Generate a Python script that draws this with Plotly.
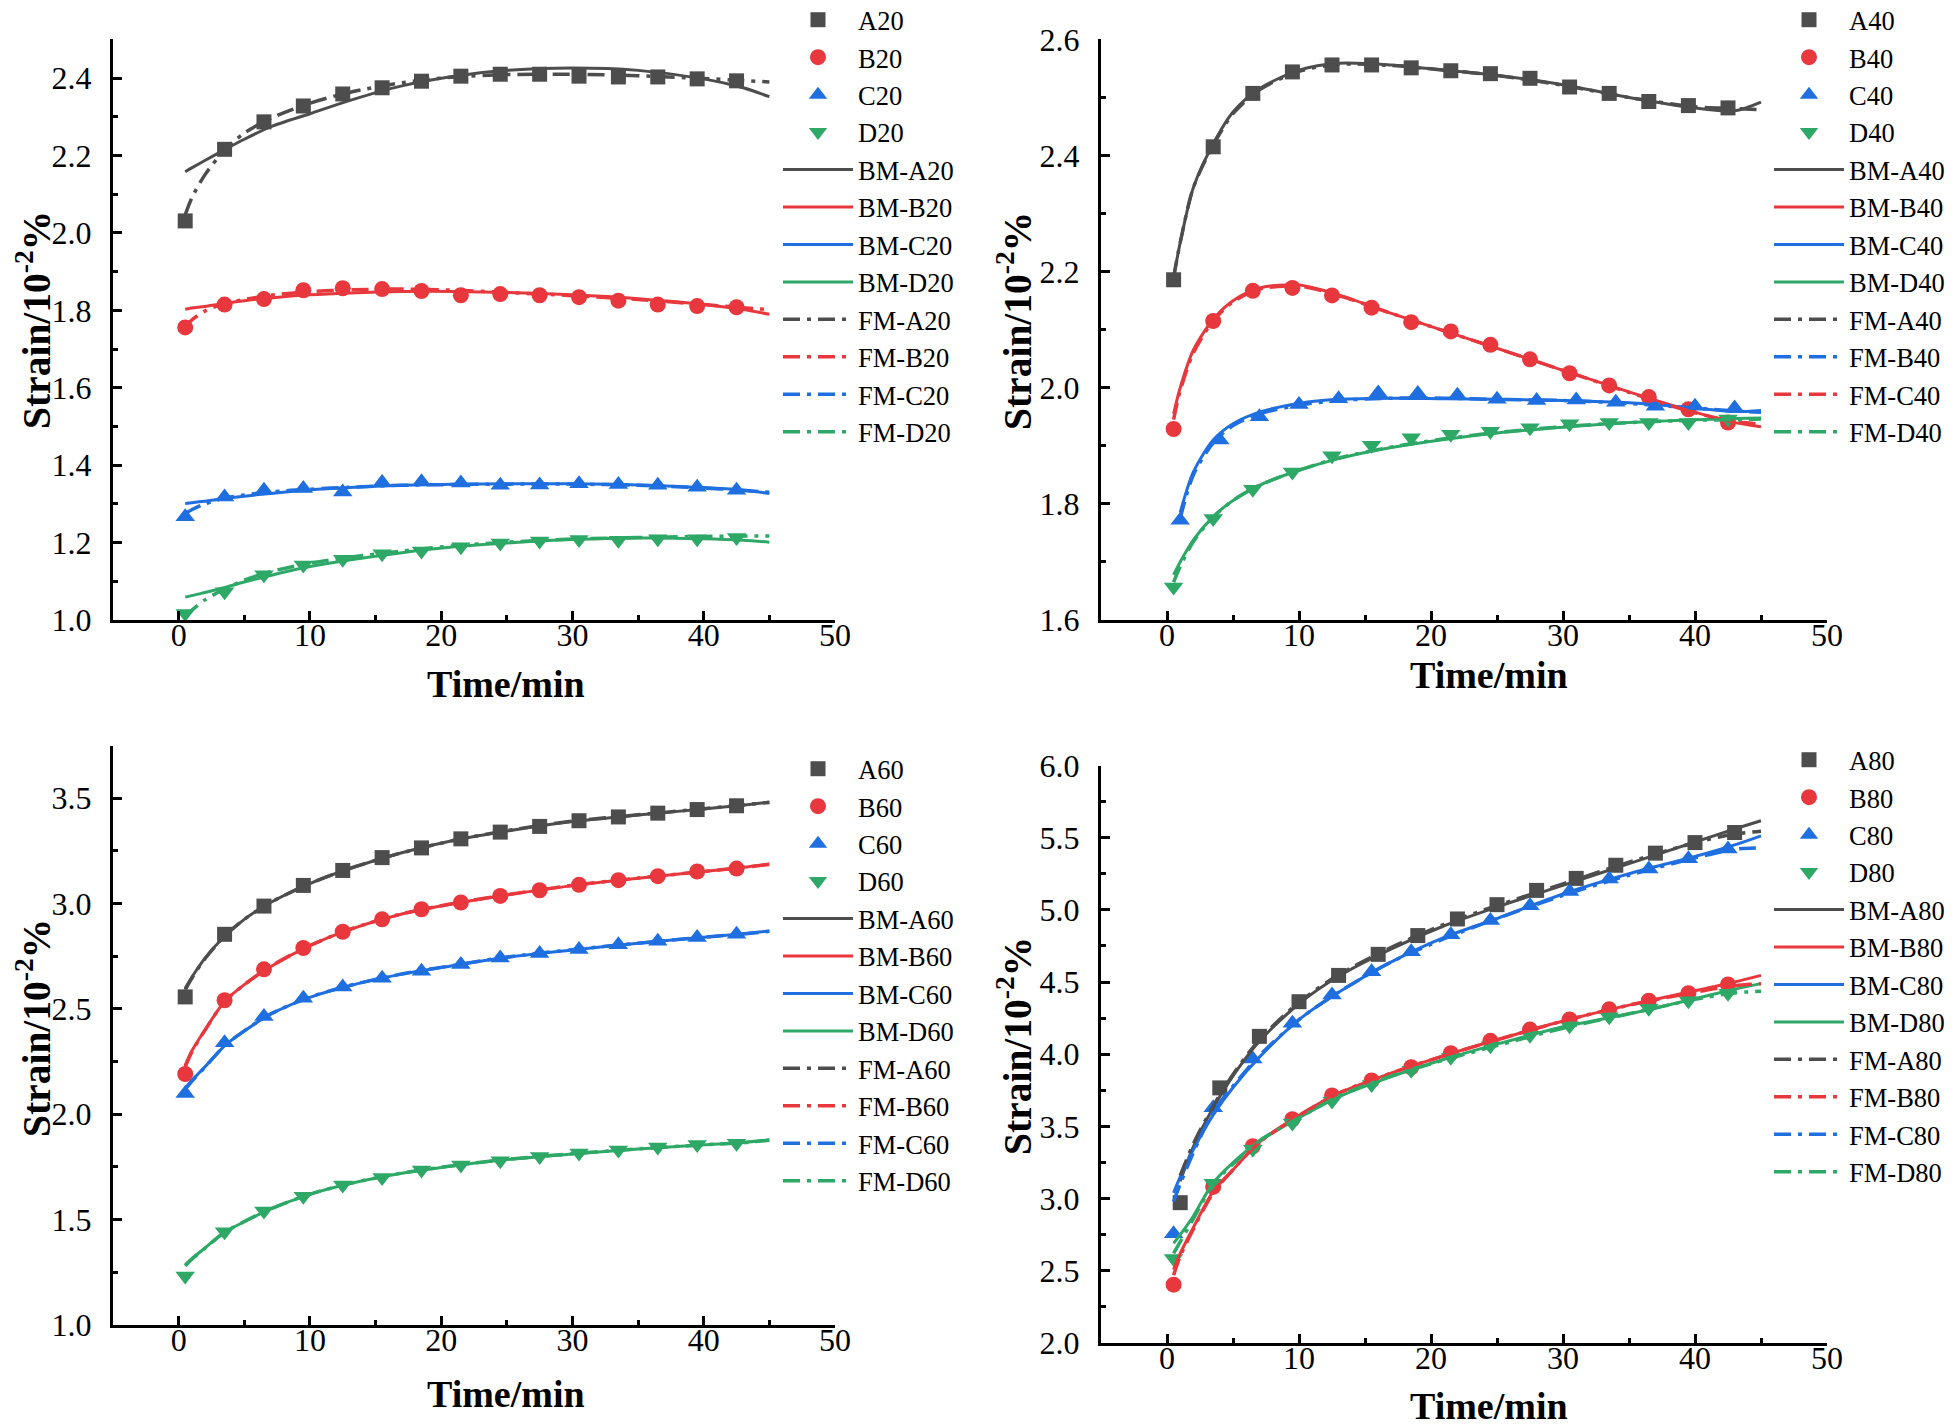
import plotly.graph_objects as go

# ---------------- time bases ----------------
T_PTS = [0.5, 3.5, 6.5, 9.5, 12.5, 15.5, 18.5, 21.5, 24.5, 27.5, 30.5, 33.5, 36.5, 39.5, 42.5]
T_PTS_1 = [1, 4, 7, 10, 13, 16, 19, 22, 25, 28, 31, 34, 37, 40, 43]
T_FIT = [0.5, 1, 2, 3.5, 5, 7, 10, 13, 17, 21, 25, 30, 35, 40, 43, 45]
T_FIT_1 = [1, 2, 3.5, 5, 7, 10, 13, 17, 21, 25, 30, 35, 40, 43, 45]

X_TICKS = [0, 10, 20, 30, 40, 50]

# ---------------- panel 1 (20) ----------------
A20 = [2.031, 2.216, 2.287, 2.328, 2.359, 2.375, 2.392, 2.405, 2.410, 2.410, 2.405, 2.403, 2.403, 2.398, 2.393]
B20 = [1.756, 1.815, 1.829, 1.852, 1.857, 1.855, 1.850, 1.839, 1.842, 1.839, 1.834, 1.825, 1.815, 1.811, 1.808]
C20 = [1.267, 1.318, 1.335, 1.340, 1.331, 1.355, 1.357, 1.354, 1.348, 1.349, 1.352, 1.350, 1.348, 1.343, 1.335]
D20 = [1.017, 1.073, 1.117, 1.142, 1.157, 1.171, 1.178, 1.189, 1.199, 1.204, 1.208, 1.206, 1.210, 1.210, 1.213]
BM_A20 = [2.158, 2.168, 2.187, 2.215, 2.242, 2.274, 2.308, 2.342, 2.380, 2.405, 2.420, 2.426, 2.420, 2.398, 2.375, 2.352]
BM_B20 = [1.803, 1.806, 1.810, 1.818, 1.825, 1.832, 1.840, 1.845, 1.849, 1.849, 1.846, 1.840, 1.830, 1.815, 1.802, 1.790]
BM_C20 = [1.301, 1.303, 1.307, 1.314, 1.320, 1.327, 1.336, 1.342, 1.348, 1.351, 1.352, 1.352, 1.349, 1.342, 1.335, 1.327]
BM_D20 = [1.059, 1.063, 1.071, 1.084, 1.098, 1.115, 1.138, 1.155, 1.174, 1.189, 1.199, 1.208, 1.212, 1.210, 1.206, 1.201]
FM_A20 = [2.047, 2.090, 2.150, 2.214, 2.258, 2.296, 2.335, 2.363, 2.388, 2.403, 2.409, 2.410, 2.406, 2.399, 2.394, 2.390]
FM_B20 = [1.756, 1.775, 1.798, 1.818, 1.828, 1.839, 1.848, 1.853, 1.855, 1.852, 1.846, 1.838, 1.828, 1.815, 1.807, 1.802]
FM_C20 = [1.275, 1.285, 1.300, 1.315, 1.323, 1.331, 1.338, 1.343, 1.348, 1.350, 1.351, 1.351, 1.348, 1.341, 1.335, 1.330]
FM_D20 = [1.008, 1.025, 1.052, 1.080, 1.103, 1.125, 1.147, 1.162, 1.178, 1.192, 1.201, 1.209, 1.213, 1.216, 1.217, 1.217]

# ---------------- panel 2 (40) ----------------
A40 = [2.186, 2.415, 2.507, 2.544, 2.556, 2.556, 2.551, 2.546, 2.541, 2.533, 2.518, 2.507, 2.493, 2.486, 2.482]
B40 = [1.929, 2.115, 2.167, 2.172, 2.159, 2.138, 2.113, 2.097, 2.074, 2.049, 2.025, 2.004, 1.984, 1.963, 1.940]
C40 = [1.772, 1.910, 1.950, 1.971, 1.981, 1.991, 1.990, 1.987, 1.980, 1.978, 1.979, 1.975, 1.968, 1.968, 1.965]
D40 = [1.657, 1.775, 1.825, 1.855, 1.883, 1.901, 1.914, 1.920, 1.925, 1.931, 1.938, 1.940, 1.940, 1.940, 1.946]
BM_A40 = [2.190, 2.250, 2.345, 2.420, 2.475, 2.515, 2.547, 2.559, 2.556, 2.547, 2.538, 2.522, 2.500, 2.482, 2.477, 2.492]
BM_B40 = [1.955, 2.000, 2.065, 2.118, 2.150, 2.172, 2.177, 2.160, 2.128, 2.098, 2.068, 2.030, 1.993, 1.958, 1.940, 1.933]
BM_C40 = [1.785, 1.855, 1.910, 1.938, 1.958, 1.973, 1.980, 1.982, 1.981, 1.980, 1.978, 1.974, 1.965, 1.959, 1.961]
BM_D40 = [1.678, 1.700, 1.738, 1.778, 1.806, 1.832, 1.858, 1.878, 1.897, 1.911, 1.922, 1.932, 1.940, 1.945, 1.947, 1.948]
FM_A40 = [2.190, 2.250, 2.345, 2.418, 2.472, 2.513, 2.545, 2.557, 2.555, 2.547, 2.538, 2.521, 2.500, 2.484, 2.481, 2.479]
FM_B40 = [1.775, 1.850, 1.905, 1.935, 1.955, 1.970, 1.978, 1.982, 1.982, 1.980, 1.978, 1.973, 1.965, 1.960, 1.958]
FM_C40 = [1.945, 1.995, 2.060, 2.115, 2.148, 2.170, 2.175, 2.159, 2.128, 2.098, 2.068, 2.030, 1.992, 1.957, 1.942, 1.937]
FM_D40 = [1.665, 1.692, 1.735, 1.777, 1.806, 1.832, 1.858, 1.879, 1.898, 1.912, 1.923, 1.933, 1.940, 1.944, 1.945, 1.946]

# ---------------- panel 3 (60) ----------------
A60 = [2.557, 2.854, 2.988, 3.086, 3.157, 3.218, 3.264, 3.307, 3.339, 3.366, 3.393, 3.411, 3.429, 3.446, 3.464]
B60 = [2.191, 2.541, 2.688, 2.789, 2.866, 2.925, 2.973, 3.005, 3.036, 3.063, 3.089, 3.111, 3.130, 3.152, 3.166]
C60 = [2.098, 2.339, 2.464, 2.550, 2.604, 2.646, 2.679, 2.711, 2.741, 2.763, 2.782, 2.804, 2.821, 2.839, 2.854]
D60 = [1.232, 1.443, 1.541, 1.611, 1.664, 1.700, 1.736, 1.759, 1.780, 1.800, 1.816, 1.830, 1.845, 1.857, 1.862]
BM_A60 = [2.598, 2.650, 2.740, 2.845, 2.925, 3.005, 3.095, 3.165, 3.241, 3.300, 3.344, 3.389, 3.420, 3.449, 3.467, 3.482]
BM_B60 = [2.232, 2.300, 2.400, 2.535, 2.615, 2.700, 2.800, 2.876, 2.950, 3.000, 3.041, 3.085, 3.120, 3.152, 3.172, 3.188]
BM_C60 = [2.125, 2.160, 2.225, 2.325, 2.395, 2.475, 2.555, 2.610, 2.665, 2.706, 2.745, 2.780, 2.812, 2.840, 2.857, 2.870]
BM_D60 = [1.286, 1.315, 1.365, 1.440, 1.490, 1.550, 1.620, 1.670, 1.720, 1.756, 1.785, 1.812, 1.835, 1.855, 1.866, 1.879]
FM_A60 = [2.590, 2.645, 2.738, 2.845, 2.925, 3.005, 3.095, 3.166, 3.241, 3.300, 3.346, 3.391, 3.421, 3.450, 3.468, 3.480]
FM_B60 = [2.225, 2.295, 2.398, 2.535, 2.615, 2.702, 2.801, 2.877, 2.951, 3.001, 3.042, 3.086, 3.121, 3.152, 3.171, 3.186]
FM_C60 = [2.118, 2.156, 2.223, 2.325, 2.396, 2.476, 2.556, 2.611, 2.666, 2.707, 2.746, 2.781, 2.812, 2.840, 2.856, 2.868]
FM_D60 = [1.280, 1.312, 1.364, 1.440, 1.491, 1.551, 1.621, 1.671, 1.721, 1.757, 1.786, 1.813, 1.836, 1.855, 1.865, 1.877]

# ---------------- panel 4 (80) ----------------
A80 = [2.972, 3.767, 4.124, 4.364, 4.546, 4.692, 4.822, 4.937, 5.036, 5.135, 5.218, 5.309, 5.393, 5.466, 5.536]
B80 = [2.404, 3.081, 3.363, 3.550, 3.715, 3.819, 3.910, 4.007, 4.093, 4.171, 4.241, 4.311, 4.371, 4.423, 4.483]
C80 = [2.756, 3.629, 3.967, 4.215, 4.410, 4.572, 4.710, 4.827, 4.926, 5.028, 5.127, 5.213, 5.283, 5.354, 5.422]
D80 = [2.586, 3.107, 3.342, 3.524, 3.676, 3.790, 3.889, 3.980, 4.059, 4.132, 4.197, 4.259, 4.319, 4.371, 4.423]
BM_A80 = [3.120, 3.360, 3.630, 3.850, 4.090, 4.350, 4.540, 4.730, 4.890, 5.020, 5.170, 5.320, 5.470, 5.560, 5.617]
BM_B80 = [2.508, 2.620, 2.800, 3.050, 3.200, 3.390, 3.575, 3.730, 3.870, 3.990, 4.100, 4.230, 4.340, 4.440, 4.500, 4.546]
BM_C80 = [3.040, 3.150, 3.340, 3.580, 3.770, 3.980, 4.240, 4.430, 4.640, 4.810, 4.940, 5.110, 5.250, 5.370, 5.450, 5.513]
BM_D80 = [2.690, 2.750, 2.880, 3.110, 3.250, 3.400, 3.560, 3.705, 3.845, 3.965, 4.070, 4.190, 4.280, 4.385, 4.450, 4.489]
FM_A80 = [3.160, 3.380, 3.640, 3.860, 4.100, 4.360, 4.550, 4.740, 4.900, 5.030, 5.180, 5.330, 5.465, 5.525, 5.545]
FM_B80 = [2.470, 2.600, 2.790, 3.040, 3.200, 3.390, 3.575, 3.730, 3.870, 3.990, 4.100, 4.230, 4.340, 4.430, 4.475, 4.489]
FM_C80 = [2.980, 3.100, 3.320, 3.600, 3.780, 3.990, 4.240, 4.430, 4.640, 4.800, 4.940, 5.100, 5.240, 5.360, 5.420, 5.430]
FM_D80 = [2.620, 2.700, 2.860, 3.100, 3.240, 3.400, 3.560, 3.710, 3.850, 3.960, 4.060, 4.180, 4.280, 4.380, 4.425, 4.436]

# ---------------- styling ----------------
GRAY, RED, BLUE, GREEN = "#4d4d4d", "#e8383d", "#1f6fe0", "#2ea866"
FONT = "Liberation Serif, Times New Roman, serif"
DASHDOT = "17px,7px,4px,7px"
W, H = 1960, 1428

fig = go.Figure()


def add_panel(n, legend, marker_sets, bm_sets, fm_sets):
    xa = "x" if n == 1 else f"x{n}"
    ya = "y" if n == 1 else f"y{n}"
    for name, t, y, sym, col, size in marker_sets:
        fig.add_trace(go.Scatter(x=t, y=y, name=name, mode="markers", xaxis=xa, yaxis=ya,
                                 legend=legend, cliponaxis=False,
                                 marker=dict(symbol=sym, color=col, size=size, line=dict(width=0))))
    for name, t, y, col in bm_sets:
        fig.add_trace(go.Scatter(x=t, y=y, name=name, mode="lines", xaxis=xa, yaxis=ya,
                                 legend=legend, cliponaxis=False,
                                 line=dict(color=col, width=3, shape="spline", smoothing=0.8)))
    for name, t, y, col in fm_sets:
        fig.add_trace(go.Scatter(x=t, y=y, name=name, mode="lines", xaxis=xa, yaxis=ya,
                                 legend=legend, cliponaxis=False,
                                 line=dict(color=col, width=3.5, dash=DASHDOT, shape="spline", smoothing=0.8)))


SQ, CI, TR = 15, 16, 17

add_panel(1, "legend",
          [("A20", T_PTS, A20, "square", GRAY, SQ), ("B20", T_PTS, B20, "circle", RED, CI),
           ("C20", T_PTS, C20, "triangle-up", BLUE, TR), ("D20", T_PTS, D20, "triangle-down", GREEN, TR)],
          [("BM-A20", T_FIT, BM_A20, GRAY), ("BM-B20", T_FIT, BM_B20, RED),
           ("BM-C20", T_FIT, BM_C20, BLUE), ("BM-D20", T_FIT, BM_D20, GREEN)],
          [("FM-A20", T_FIT, FM_A20, GRAY), ("FM-B20", T_FIT, FM_B20, RED),
           ("FM-C20", T_FIT, FM_C20, BLUE), ("FM-D20", T_FIT, FM_D20, GREEN)])

add_panel(2, "legend2",
          [("A40", T_PTS, A40, "square", GRAY, SQ), ("B40", T_PTS, B40, "circle", RED, CI),
           ("C40", T_PTS_1, C40, "triangle-up", BLUE, TR), ("D40", T_PTS, D40, "triangle-down", GREEN, TR)],
          [("BM-A40", T_FIT, BM_A40, GRAY), ("BM-B40", T_FIT, BM_B40, RED),
           ("BM-C40", T_FIT_1, BM_C40, BLUE), ("BM-D40", T_FIT, BM_D40, GREEN)],
          [("FM-A40", T_FIT, FM_A40, GRAY), ("FM-B40", T_FIT_1, FM_B40, BLUE),
           ("FM-C40", T_FIT, FM_C40, RED), ("FM-D40", T_FIT, FM_D40, GREEN)])

add_panel(3, "legend3",
          [("A60", T_PTS, A60, "square", GRAY, SQ), ("B60", T_PTS, B60, "circle", RED, CI),
           ("C60", T_PTS, C60, "triangle-up", BLUE, TR), ("D60", T_PTS, D60, "triangle-down", GREEN, TR)],
          [("BM-A60", T_FIT, BM_A60, GRAY), ("BM-B60", T_FIT, BM_B60, RED),
           ("BM-C60", T_FIT, BM_C60, BLUE), ("BM-D60", T_FIT, BM_D60, GREEN)],
          [("FM-A60", T_FIT, FM_A60, GRAY), ("FM-B60", T_FIT, FM_B60, RED),
           ("FM-C60", T_FIT, FM_C60, BLUE), ("FM-D60", T_FIT, FM_D60, GREEN)])

add_panel(4, "legend4",
          [("A80", T_PTS_1, A80, "square", GRAY, SQ), ("B80", T_PTS, B80, "circle", RED, CI),
           ("C80", T_PTS, C80, "triangle-up", BLUE, TR), ("D80", T_PTS, D80, "triangle-down", GREEN, TR)],
          [("BM-A80", T_FIT_1, BM_A80, GRAY), ("BM-B80", T_FIT, BM_B80, RED),
           ("BM-C80", T_FIT, BM_C80, BLUE), ("BM-D80", T_FIT, BM_D80, GREEN)],
          [("FM-A80", T_FIT_1, FM_A80, GRAY), ("FM-B80", T_FIT, FM_B80, RED),
           ("FM-C80", T_FIT, FM_C80, BLUE), ("FM-D80", T_FIT, FM_D80, GREEN)])


def px_x(p):
    return p / W


def px_y(p):
    return 1 - p / H


tick_font = dict(family=FONT, size=32, color="black")
axis_common = dict(showline=True, linecolor="black", linewidth=3, ticks="inside", ticklen=9,
                   tickwidth=3, tickcolor="black", showgrid=False, zeroline=False,
                   tickfont=tick_font, automargin=False, mirror=False)

left_dom = [px_x(105), px_x(827)]
right_dom = [px_x(1093), px_x(1819)]

panels = {
    1: dict(xdom=left_dom, ydom=[px_y(612), px_y(31.4)], yr=[1.0, 2.5], dy=0.2, mdy=0.1),
    2: dict(xdom=right_dom, ydom=[px_y(612), px_y(31.4)], yr=[1.6, 2.6], dy=0.2, mdy=0.1),
    3: dict(xdom=left_dom, ydom=[px_y(1317), px_y(737.5)], yr=[1.0, 3.75], dy=0.5, mdy=0.25),
    4: dict(xdom=right_dom, ydom=[px_y(1335), px_y(757.5)], yr=[2.0, 6.0], dy=0.5, mdy=0.25),
}

layout_axes = {}
for n, p in panels.items():
    xk = "xaxis" if n == 1 else f"xaxis{n}"
    yk = "yaxis" if n == 1 else f"yaxis{n}"
    ya = "y" if n == 1 else f"y{n}"
    xa = "x" if n == 1 else f"x{n}"
    layout_axes[xk] = dict(domain=p["xdom"], anchor=ya, range=[-5, 50], tickmode="array",
                           tickvals=X_TICKS, ticktext=[str(v) for v in X_TICKS],
                           minor=dict(dtick=5, tick0=0, ticks="inside", ticklen=5, tickwidth=3, tickcolor="black"),
                           ticklabelstandoff=-15, **axis_common)
    layout_axes[yk] = dict(domain=p["ydom"], anchor=xa, range=p["yr"], dtick=p["dy"], tick0=p["yr"][0],
                           tickformat=".1f",
                           minor=dict(dtick=p["mdy"], ticks="inside", ticklen=5, tickwidth=3, tickcolor="black"),
                           ticklabelstandoff=12, **axis_common)

leg_common = dict(xanchor="left", yanchor="top", bgcolor="rgba(0,0,0,0)",
                  font=dict(family=FONT, size=26.5, color="black"), itemwidth=70, tracegroupgap=0,
                  orientation="v")

title_font = dict(family=FONT, size=38, color="black")
ytitle_font = dict(family=FONT, size=39.5, color="black")
annotations = []
for cx, cy in [(498, 676), (1481, 667), (498, 1386), (1481, 1398)]:
    annotations.append(dict(text="<b>Time/min</b>", x=px_x(cx), y=px_y(cy), xref="paper", yref="paper",
                            showarrow=False, font=title_font, xanchor="center", yanchor="middle"))
for cx, cy in [(25, 312), (1006, 313), (25, 1020), (1006, 1038)]:
    annotations.append(dict(text="<b>Strain/10<sup>-2</sup>%</b>", x=px_x(cx), y=px_y(cy), xref="paper",
                            yref="paper", showarrow=False, font=ytitle_font, textangle=-90,
                            xanchor="center", yanchor="middle"))

fig.update_layout(
    width=W, height=H, autosize=False,
    margin=dict(l=0, r=0, t=0, b=0, pad=0, autoexpand=False),
    paper_bgcolor="white", plot_bgcolor="white",
    font=dict(family=FONT, color="black"),
    showlegend=True,
    legend=dict(x=px_x(770), y=px_y(-12), **leg_common),
    legend2=dict(x=px_x(1761), y=px_y(-12), **leg_common),
    legend3=dict(x=px_x(770), y=px_y(737), **leg_common),
    legend4=dict(x=px_x(1761), y=px_y(728), **leg_common),
    annotations=annotations,
    **layout_axes,
)

fig.write_html("out.html")
